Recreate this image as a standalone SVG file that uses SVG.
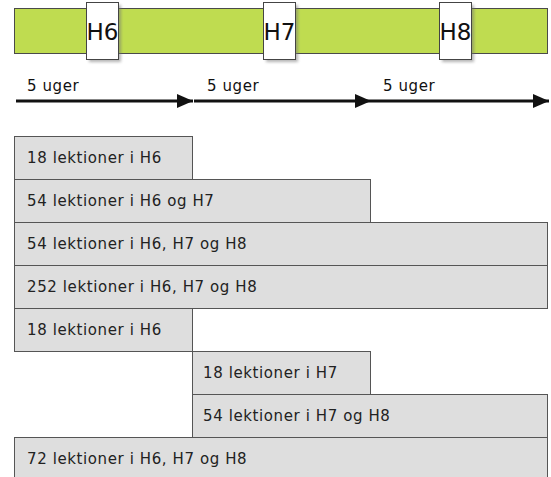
<svg xmlns="http://www.w3.org/2000/svg" width="551" height="477" viewBox="0 0 551 477">
<defs>
<style>
.bar{fill:#bfdc50;stroke:#4a4a4a;stroke-width:1}
.hb{fill:#ffffff;stroke:#444;stroke-width:1}
.sh{fill:#777;opacity:0.55}
.ht{font-family:"DejaVu Sans",Verdana,sans-serif;font-size:23px;fill:#111}
.lab{font-family:"DejaVu Sans",Verdana,sans-serif;font-size:15px;letter-spacing:0.6px;fill:#111}
.row{fill:#dedede;stroke:#555;stroke-width:1}
.rt{font-family:"DejaVu Sans",Verdana,sans-serif;font-size:15px;letter-spacing:0.6px;fill:#222}
.arr{stroke:#111;stroke-width:3;fill:none}
</style>
<filter id="blur" x="-20%" y="-20%" width="140%" height="140%"><feGaussianBlur stdDeviation="1.5"/></filter>
<marker id="ah" markerWidth="16" markerHeight="14" refX="16" refY="7" orient="auto" markerUnits="userSpaceOnUse">
<path d="M0,0 L16,7 L0,14 Z" fill="#111"/>
</marker>
</defs>
<g id="timeline">
<rect class="bar" x="14.5" y="8.5" width="533" height="45"/>
</g>
<g id="H6">
<rect class="sh" x="89" y="5" width="32" height="57" filter="url(#blur)"/>
<rect class="hb" x="86.5" y="2.5" width="32" height="57"/>
<text class="ht" x="102.5" y="40" text-anchor="middle">H6</text>
</g>
<g id="H7">
<rect class="sh" x="266" y="5" width="32" height="57" filter="url(#blur)"/>
<rect class="hb" x="263.5" y="2.5" width="32" height="57"/>
<text class="ht" x="279.5" y="40" text-anchor="middle">H7</text>
</g>
<g id="H8">
<rect class="sh" x="442" y="5" width="32" height="57" filter="url(#blur)"/>
<rect class="hb" x="439.5" y="2.5" width="32" height="57"/>
<text class="ht" x="455.5" y="40" text-anchor="middle">H8</text>
</g>
<g id="connectors">
<line class="arr" x1="16" y1="101" x2="193" y2="101" marker-end="url(#ah)"/>
<line class="arr" x1="194" y1="101" x2="371" y2="101" marker-end="url(#ah)"/>
<line class="arr" x1="371" y1="101" x2="549" y2="101" marker-end="url(#ah)"/>
</g>
<g id="labels">
<text class="lab" x="27" y="91">5 uger</text>
<text class="lab" x="207" y="91">5 uger</text>
<text class="lab" x="383" y="91">5 uger</text>
</g>
<g id="row1"><rect class="row" x="14.5" y="136.5" width="178" height="43"/><text class="rt" x="27" y="163">18 lektioner i H6</text></g>
<g id="row2"><rect class="row" x="14.5" y="179.5" width="356" height="43"/><text class="rt" x="27" y="206">54 lektioner i H6 og H7</text></g>
<g id="row3"><rect class="row" x="14.5" y="222.5" width="533" height="43"/><text class="rt" x="27" y="249">54 lektioner i H6, H7 og H8</text></g>
<g id="row4"><rect class="row" x="14.5" y="265.5" width="533" height="43"/><text class="rt" x="27" y="292">252 lektioner i H6, H7 og H8</text></g>
<g id="row5"><rect class="row" x="14.5" y="308.5" width="178" height="43"/><text class="rt" x="27" y="335">18 lektioner i H6</text></g>
<g id="row6"><rect class="row" x="192.5" y="351.5" width="178" height="43"/><text class="rt" x="203" y="378">18 lektioner i H7</text></g>
<g id="row7"><rect class="row" x="192.5" y="394.5" width="355" height="43"/><text class="rt" x="203" y="421">54 lektioner i H7 og H8</text></g>
<g id="row8"><rect class="row" x="14.5" y="437.5" width="533" height="43"/><text class="rt" x="27" y="464">72 lektioner i H6, H7 og H8</text></g>
</svg>
